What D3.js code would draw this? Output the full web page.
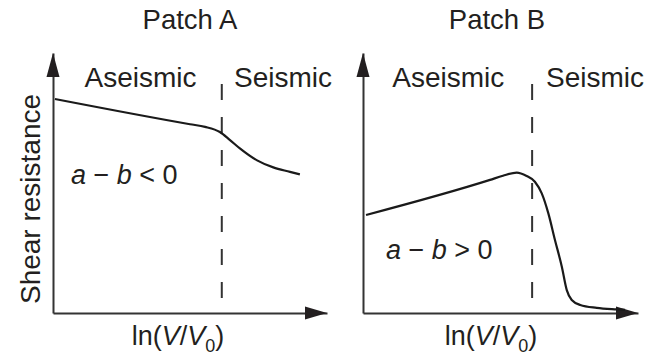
<!DOCTYPE html>
<html>
<head>
<meta charset="utf-8">
<script src="https://cdn.jsdelivr.net/npm/d3@7/dist/d3.min.js"></script>
<style>
  html, body { margin: 0; padding: 0; background: #fff; }
  svg { display: block; }
  text { font-family: "Liberation Sans", Arial, Helvetica, sans-serif; fill: #231f20; }
</style>
</head>
<body>
<svg id="chart" width="648" height="354"></svg>
<script>
// Schematic friction curves: shear resistance vs ln(V/V0), both axes normalised 0–100.
const panelTitles = ["Patch A", "Patch B"];
const regimeLabels = ["Aseismic", "Seismic"];
const stabilityLabels = ["a − b < 0", "a − b > 0"];

// Velocity-weakening patch (a − b < 0)
const patchAx = [0.7, 50.0, 55.5, 60.9, 64.6, 68.2, 74.3, 80.4, 86.5, 90.1];
const patchAy = [82.3, 72.6, 71.6, 69.6, 66.5, 63.3, 58.8, 56.0, 54.3, 53.3];

// Velocity-strengthening patch (a − b > 0) that collapses past the transition
const patchBx = [1.1, 46.2, 50.9, 55.9, 59.5, 62.5, 65.0, 67.4, 69.8, 72.3, 74.1, 75.9, 79.0, 85.0, 92.3, 95.3];
const patchBy = [37.7, 51.2, 52.8, 54.0, 52.7, 50.5, 46.0, 38.3, 28.1, 17.8, 8.8, 5.0, 3.1, 2.0, 1.4, 1.2];

// Aseismic / seismic transition
const transitionX = [61.6, 61.5];
const transitionY = [5.8, 89.6];

const svg = d3.select("#chart");

const panels = [
  { left: 53, right: 327, title: 190, aseis: 140.5, seis: 283, stabX: 71, stabY: 184, xlab: 178,
    xs: patchAx, ys: patchAy },
  { left: 363, right: 638, title: 497, aseis: 448.3, seis: 595, stabX: 386, stabY: 259, xlab: 491,
    xs: patchBx, ys: patchBy }
];

const plotTop = 53, plotBottom = 313;
const ink = "#231f20";

panels.forEach((p, i) => {
  const x = d3.scaleLinear().domain([0, 100]).range([p.left, p.right]);
  const y = d3.scaleLinear().domain([0, 100]).range([plotBottom, plotTop]);
  const g = svg.append("g");

  // axes: bare domain lines, no ticks
  const xAxis = g.append("g").attr("transform", `translate(0,${plotBottom})`)
    .call(d3.axisBottom(x).tickValues([]).tickSizeOuter(0));
  const yAxis = g.append("g").attr("transform", `translate(${p.left},0)`)
    .call(d3.axisLeft(y).tickValues([]).tickSizeOuter(0));
  [xAxis, yAxis].forEach(a => a.select(".domain").attr("stroke", "#333").attr("stroke-width", 2));

  // arrowheads at the axis ends
  const xt = x.range()[1], yt = y.range()[1];
  g.append("path")
    .attr("d", `M${xt},${plotBottom} L${xt - 22},${plotBottom - 6.5} L${xt - 22},${plotBottom + 6.5} Z`)
    .attr("fill", ink);
  g.append("path")
    .attr("d", `M${p.left},${yt} L${p.left - 6.5},${yt + 24} L${p.left + 6.5},${yt + 24} Z`)
    .attr("fill", ink);

  // transition line, dashed, drawn from the bottom upward
  g.append("line")
    .attr("x1", x(transitionX[i])).attr("x2", x(transitionX[i]))
    .attr("y1", y(transitionY[0])).attr("y2", y(transitionY[1]))
    .attr("stroke", "#333").attr("stroke-width", 2)
    .attr("stroke-dasharray", "16,17");

  // friction curve
  const pts = p.xs.map((v, k) => [v, p.ys[k]]);
  g.append("path")
    .datum(pts)
    .attr("fill", "none")
    .attr("stroke", "#1a1a1a")
    .attr("stroke-width", 2.2)
    .attr("d", d3.line().x(d => x(d[0])).y(d => y(d[1])).curve(d3.curveMonotoneX));

  // labels
  g.append("text").attr("x", p.title).attr("y", 28.5).attr("text-anchor", "middle")
    .attr("font-size", 27.5).text(panelTitles[i]);
  g.append("text").attr("x", p.aseis).attr("y", 86.7).attr("text-anchor", "middle")
    .attr("font-size", 28).text(regimeLabels[0]);
  g.append("text").attr("x", p.seis).attr("y", 86.7).attr("text-anchor", "middle")
    .attr("font-size", 28).text(regimeLabels[1]);

  const parts = stabilityLabels[i].split(" ");
  const st = g.append("text").attr("x", p.stabX).attr("y", p.stabY).attr("font-size", 27);
  st.append("tspan").attr("font-style", "italic").text(parts[0]);
  st.append("tspan").text(" " + parts[1] + " ");
  st.append("tspan").attr("font-style", "italic").text(parts[2]);
  st.append("tspan").text(" " + parts[3] + " " + parts[4]);

  const xl = g.append("text").attr("x", p.xlab).attr("y", 345).attr("text-anchor", "middle")
    .attr("font-size", 27);
  xl.append("tspan").text("ln(");
  xl.append("tspan").attr("font-style", "italic").text("V");
  xl.append("tspan").text("/");
  xl.append("tspan").attr("font-style", "italic").text("V");
  xl.append("tspan").attr("font-size", 18).attr("dy", 7).text("0");
  xl.append("tspan").attr("dy", -7).text(")");
});

// shared y-axis title
svg.append("text")
  .attr("transform", "translate(40,199) rotate(-90)")
  .attr("text-anchor", "middle")
  .attr("font-size", 28)
  .text("Shear resistance");
</script>
</body>
</html>
